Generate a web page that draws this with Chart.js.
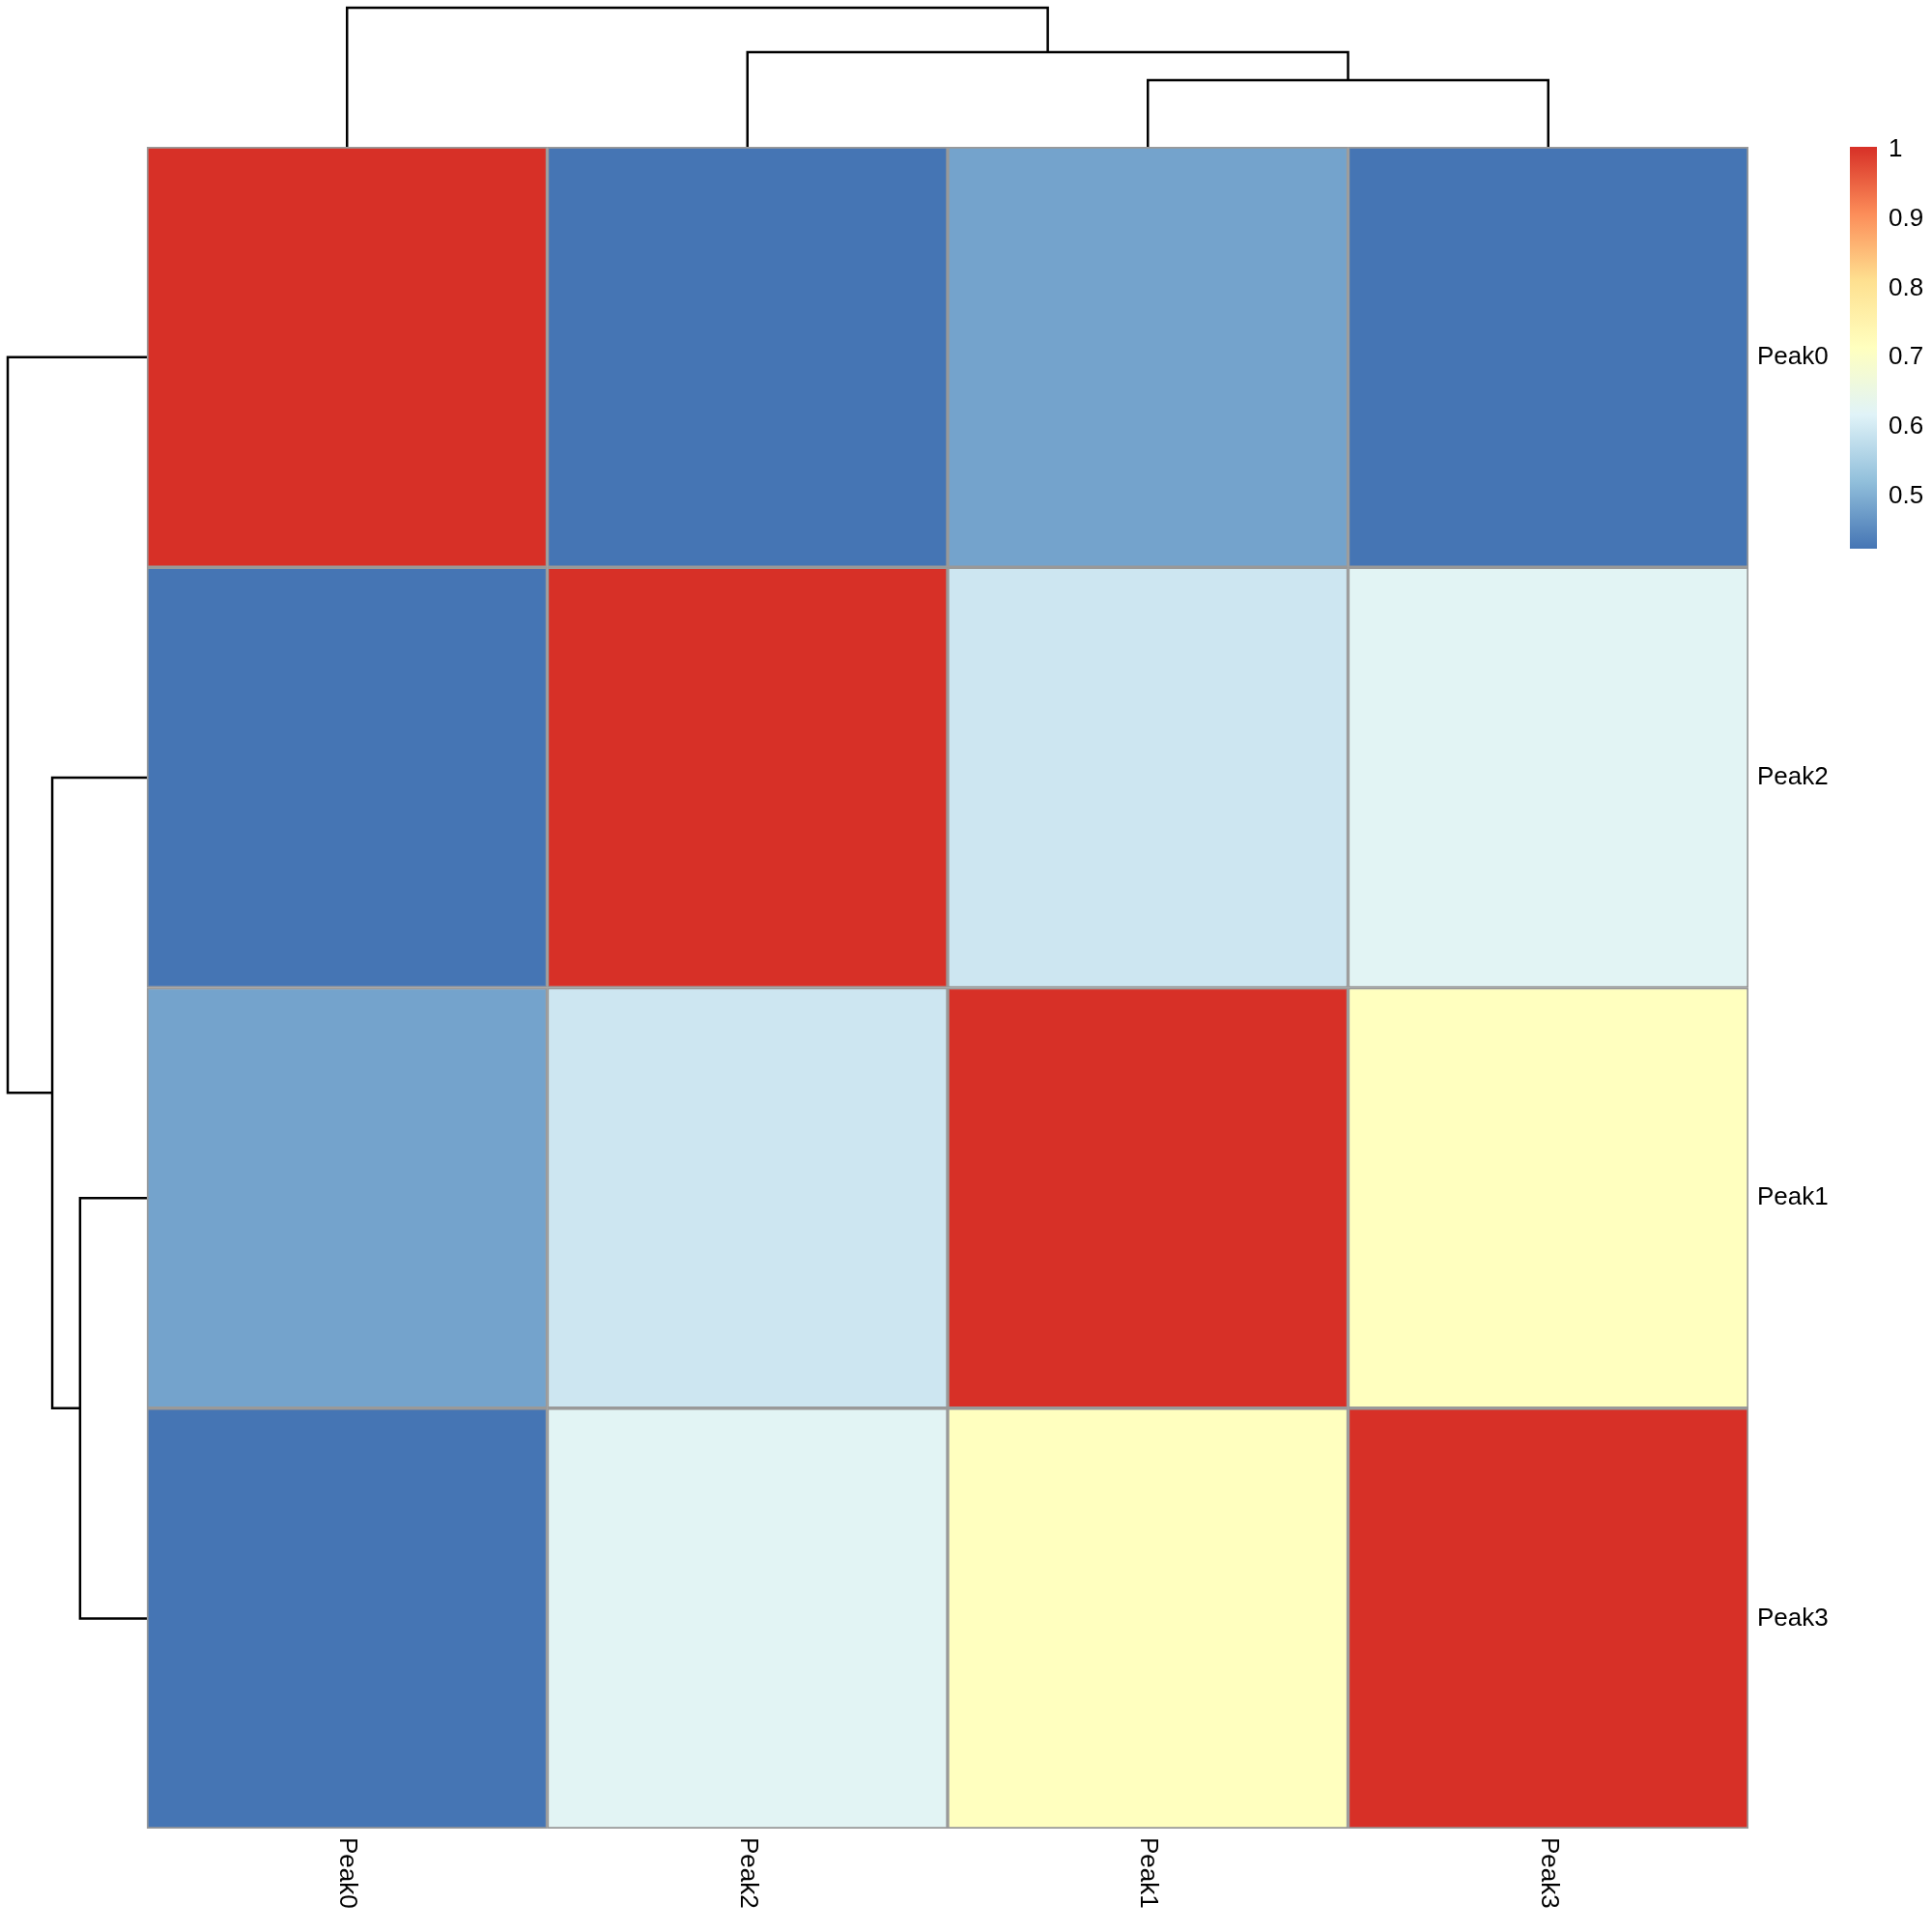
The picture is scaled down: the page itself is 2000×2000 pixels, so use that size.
<!DOCTYPE html>
<html><head><meta charset="utf-8">
<script src="https://cdn.jsdelivr.net/npm/chart.js@4"></script>
<style>body{margin:0;background:#fff}</style>
</head><body>
<canvas id="c" width="2000" height="2000"></canvas>
<script>
// heatmap order (after clustering)
const peaks = ["Peak0", "Peak2", "Peak1", "Peak3"];
const matrix = [
  [1.00, 0.42, 0.48, 0.42],
  [0.42, 1.00, 0.59, 0.62],
  [0.48, 0.59, 1.00, 0.71],
  [0.42, 0.62, 0.71, 1.00]
];
const colorTicks = [0.5, 0.6, 0.7, 0.8, 0.9, 1];
const vmin = 0.42, vmax = 1.0;
// merges: [left position, right position, height 0..1] in leaf units
const merges = [
  { a: 2, b: 3, h: 0.48 },
  { a: 1, b: 2.5, h: 0.68 },
  { a: 0, b: 1.75, h: 1.0 }
];
const leafH = { 0: 0, 1: 0, 2: 0, 3: 0, 2.5: 0.48, 1.75: 0.68 };

const stops = ["#4575B4", "#91BFDB", "#E0F3F8", "#FFFFBF", "#FEE090", "#FC8D59", "#D73027"];
function hex(h) { return [1, 3, 5].map(i => parseInt(h.substr(i, 2), 16)); }
function colorOf(v) {
  let t = Math.max(0, Math.min(1, (v - vmin) / (vmax - vmin))) * (stops.length - 1);
  let i = Math.min(Math.floor(t), stops.length - 2), f = t - i;
  let a = hex(stops[i]), b = hex(stops[i + 1]);
  return "rgb(" + a.map((x, k) => Math.round(x + (b[k] - x) * f)).join(",") + ")";
}

const datasets = matrix.map((row, r) => ({
  data: row.map((v, c) => [r, r + 1]),
  backgroundColor: row.map(v => colorOf(v)),
  borderColor: "#999999",
  borderWidth: 2,
  borderSkipped: false,
  categoryPercentage: 1,
  barPercentage: 1,
  grouped: false
}));

const F = "Liberation Sans, Arial, sans-serif";
const deco = {
  id: "deco",
  afterDraw(chart) {
    const ctx = chart.ctx, y = chart.scales.y, a = chart.chartArea;
    const step = (a.right - a.left) / peaks.length;
    const cx = p => a.left + (p + 0.5) * step;
    const cy = p => y.getPixelForValue(p + 0.5);
    const D = 144;
    ctx.save();
    ctx.strokeStyle = "#000"; ctx.lineWidth = 2.5;
    merges.forEach(m => {
      const ha = leafH[m.a], hb = leafH[m.b];
      ctx.beginPath();
      ctx.moveTo(cx(m.a), a.top - ha * D); ctx.lineTo(cx(m.a), a.top - m.h * D);
      ctx.lineTo(cx(m.b), a.top - m.h * D); ctx.lineTo(cx(m.b), a.top - hb * D);
      ctx.stroke();
      ctx.beginPath();
      ctx.moveTo(a.left - ha * D, cy(m.a)); ctx.lineTo(a.left - m.h * D, cy(m.a));
      ctx.lineTo(a.left - m.h * D, cy(m.b)); ctx.lineTo(a.left - hb * D, cy(m.b));
      ctx.stroke();
    });
    ctx.fillStyle = "#000"; ctx.font = "26px " + F;
    ctx.textBaseline = "middle"; ctx.textAlign = "left";
    peaks.forEach((p, i) => ctx.fillText(p, a.right + 9, cy(i)));
    peaks.forEach((p, i) => {
      ctx.save(); ctx.translate(cx(i), a.bottom + 9); ctx.rotate(Math.PI / 2);
      ctx.fillText(p, 0, 0); ctx.restore();
    });
    const bx = 1915, bw = 28, bt = 152, bb = 568;
    const g = ctx.createLinearGradient(0, bb, 0, bt);
    stops.forEach((s, i) => g.addColorStop(i / (stops.length - 1), s));
    ctx.fillStyle = g; ctx.fillRect(bx, bt, bw, bb - bt);
    ctx.fillStyle = "#000"; ctx.font = "26px " + F;
    colorTicks.forEach(v => {
      const py = bb - (v - vmin) / (vmax - vmin) * (bb - bt);
      ctx.fillText(String(v), bx + bw + 12, py + 3);
    });
    ctx.restore();
  }
};

new Chart(document.getElementById("c"), {
  type: "bar",
  data: { labels: peaks, datasets: datasets },
  options: {
    responsive: false,
    animation: false,
    devicePixelRatio: 1,
    layout: { padding: { left: 152, top: 152, right: 190, bottom: 107 } },
    plugins: { legend: { display: false }, tooltip: { enabled: false } },
    scales: {
      x: { display: false, offset: true },
      y: { display: false, min: 0, max: 4, reverse: true }
    }
  },
  plugins: [deco]
});
</script>
</body></html>
